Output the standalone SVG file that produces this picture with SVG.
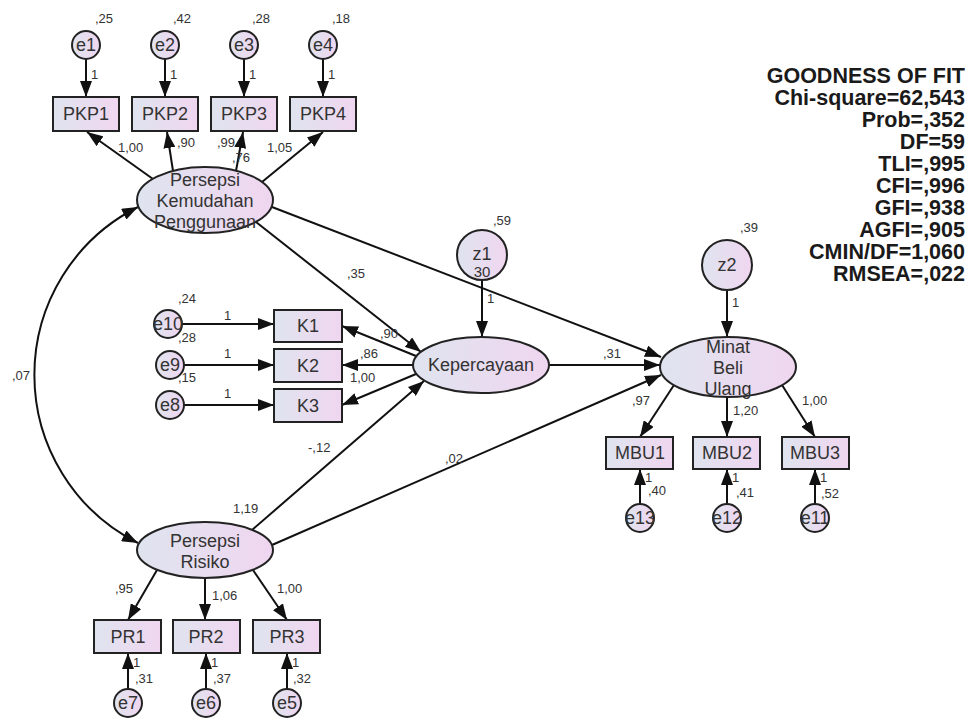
<svg xmlns="http://www.w3.org/2000/svg" width="971" height="722" viewBox="0 0 971 722">
<style>
.n{fill:url(#g);stroke:#222;stroke-width:2}
.t{font-family:"Liberation Sans",Arial,sans-serif;font-size:18px;fill:#333;text-anchor:middle}
.v{font-family:"Liberation Sans",Arial,sans-serif;font-size:13px;fill:#333}
.c{fill:none;stroke:#111;stroke-width:2;marker-end:url(#a)}
.f{font-family:"Liberation Sans",Arial,sans-serif;font-size:21.5px;font-weight:bold;fill:#1a1a1a;text-anchor:end}
</style>
<defs>
<linearGradient id="g" x1="0" y1="0" x2="1" y2="0">
<stop offset="0" stop-color="#dfe4ef"/>
<stop offset="1" stop-color="#f0d6f0"/>
</linearGradient>
<marker id="a" viewBox="0 0 16 12" refX="16" refY="6" markerWidth="16" markerHeight="12" markerUnits="userSpaceOnUse" orient="auto-start-reverse">
<path d="M0,0 L16,6 L0,12 z" fill="#111"/>
</marker>
</defs>
<rect width="971" height="722" fill="#fff"/>

<g id="connectors">
<line class="c" x1="86" y1="59" x2="86" y2="97"/>
<line class="c" x1="165" y1="59" x2="165" y2="97"/>
<line class="c" x1="244" y1="59" x2="244" y2="97"/>
<line class="c" x1="323" y1="59" x2="323" y2="97"/>
<line class="c" x1="153" y1="179" x2="87" y2="132"/>
<line class="c" x1="173" y1="171" x2="167" y2="132"/>
<line class="c" x1="236" y1="171" x2="243" y2="132"/>
<line class="c" x1="262" y1="182" x2="323" y2="132"/>
<line class="c" x1="256" y1="222" x2="421" y2="352"/>
<line class="c" x1="272" y1="207" x2="661" y2="357"/>
<line class="c" x1="549" y1="365" x2="660" y2="365"/>
<line class="c" x1="272" y1="545" x2="661" y2="375"/>
<line class="c" x1="252" y1="530" x2="424" y2="381"/>
<line class="c" x1="416" y1="356" x2="342" y2="326"/>
<line class="c" x1="413" y1="365" x2="342" y2="365"/>
<line class="c" x1="416" y1="374" x2="342" y2="405"/>
<line class="c" x1="182" y1="324" x2="274" y2="324"/>
<line class="c" x1="184" y1="365" x2="274" y2="365"/>
<line class="c" x1="184" y1="405" x2="274" y2="405"/>
<line class="c" x1="482" y1="280" x2="482" y2="337"/>
<line class="c" x1="727" y1="290" x2="727" y2="337"/>
<line class="c" x1="674" y1="385" x2="640" y2="437"/>
<line class="c" x1="727" y1="397" x2="727" y2="437"/>
<line class="c" x1="782" y1="385" x2="815" y2="437"/>
<line class="c" x1="640" y1="504" x2="640" y2="469"/>
<line class="c" x1="727" y1="504" x2="727" y2="469"/>
<line class="c" x1="815" y1="504" x2="815" y2="469"/>
<line class="c" x1="157" y1="570" x2="128" y2="620"/>
<line class="c" x1="205" y1="578" x2="205" y2="620"/>
<line class="c" x1="253" y1="570" x2="287" y2="620"/>
<line class="c" x1="128" y1="689" x2="128" y2="653"/>
<line class="c" x1="206" y1="689" x2="206" y2="653"/>
<line class="c" x1="287" y1="689" x2="287" y2="653"/>
<path class="c" d="M138,207 A188,188 0 0,0 138,543" marker-start="url(#a)"/>
</g>

<g id="labels" class="v">
<text x="95" y="23">,25</text><text x="173" y="23">,42</text><text x="252" y="23">,28</text><text x="332" y="23">,18</text>
<text x="91" y="79">1</text><text x="170" y="79">1</text><text x="249" y="79">1</text><text x="328" y="79">1</text>
<text x="118" y="152">1,00</text><text x="177" y="147">,90</text><text x="217" y="147">,99</text><text x="232" y="162">,76</text><text x="267" y="152">1,05</text>
<text x="12" y="380">,07</text>
<text x="493" y="225">,59</text>
<text x="347" y="278">,35</text>
<text x="178" y="303">,24</text><text x="178" y="342">,28</text><text x="178" y="382">,15</text>
<text x="224" y="320">1</text><text x="224" y="358">1</text><text x="224" y="398">1</text>
<text x="380" y="338">,90</text><text x="360" y="358">,86</text><text x="350" y="382">1,00</text>
<text x="487" y="303">1</text>
<text x="603" y="358">,31</text>
<text x="740" y="232">,39</text>
<text x="732" y="307">1</text>
<text x="632" y="405">,97</text><text x="733" y="415">1,20</text><text x="802" y="405">1,00</text>
<text x="645" y="482">1</text><text x="648" y="495">,40</text>
<text x="732" y="482">1</text><text x="736" y="497">,41</text>
<text x="820" y="482">1</text><text x="821" y="498">,52</text>
<text x="233" y="513">1,19</text>
<text x="308" y="452">-,12</text><text x="445" y="463">,02</text>
<text x="115" y="593">,95</text><text x="212" y="600">1,06</text><text x="277" y="593">1,00</text>
<text x="133" y="667">1</text><text x="135" y="683">,31</text>
<text x="211" y="667">1</text><text x="213" y="683">,37</text>
<text x="292" y="667">1</text><text x="293" y="683">,32</text>
</g>

<g id="e1"><circle class="n" cx="86" cy="45" r="14"/><text class="t" x="86" y="51">e1</text></g>
<g id="e2"><circle class="n" cx="165" cy="45" r="14"/><text class="t" x="165" y="51">e2</text></g>
<g id="e3"><circle class="n" cx="244" cy="45" r="14"/><text class="t" x="244" y="51">e3</text></g>
<g id="e4"><circle class="n" cx="323" cy="45" r="14"/><text class="t" x="323" y="51">e4</text></g>
<g id="PKP1"><rect class="n" x="53" y="97" width="66" height="34"/><text class="t" x="86" y="120">PKP1</text></g>
<g id="PKP2"><rect class="n" x="132" y="97" width="66" height="34"/><text class="t" x="165" y="120">PKP2</text></g>
<g id="PKP3"><rect class="n" x="211" y="97" width="66" height="34"/><text class="t" x="244" y="120">PKP3</text></g>
<g id="PKP4"><rect class="n" x="290" y="97" width="66" height="34"/><text class="t" x="323" y="120">PKP4</text></g>
<g id="PKPenggunaan"><ellipse class="n" cx="205" cy="200" rx="68" ry="33"/><text class="t" x="205" y="186">Persepsi</text><text class="t" x="205" y="207">Kemudahan</text><text class="t" x="205" y="228">Penggunaan</text></g>

<g id="e10"><circle class="n" cx="168" cy="324" r="14"/><text class="t" x="168" y="330">e10</text></g>
<g id="e9"><circle class="n" cx="170" cy="365" r="14"/><text class="t" x="170" y="371">e9</text></g>
<g id="e8"><circle class="n" cx="170" cy="405" r="14"/><text class="t" x="170" y="411">e8</text></g>
<g id="K1"><rect class="n" x="274" y="310" width="68" height="32"/><text class="t" x="308" y="332">K1</text></g>
<g id="K2"><rect class="n" x="274" y="349" width="68" height="33"/><text class="t" x="308" y="372">K2</text></g>
<g id="K3"><rect class="n" x="274" y="389" width="68" height="33"/><text class="t" x="308" y="412">K3</text></g>
<g id="z1"><circle class="n" cx="482" cy="255" r="25"/><text class="t" x="482" y="260">z1</text><text class="t" x="482" y="277" style="font-size:15px">30</text></g>
<g id="Kepercayaan"><ellipse class="n" cx="481" cy="365" rx="68" ry="28"/><text class="t" x="481" y="371">Kepercayaan</text></g>

<g id="z2"><circle class="n" cx="727" cy="265" r="25"/><text class="t" x="727" y="271">z2</text></g>
<g id="MinatBeliUlang"><ellipse class="n" cx="728" cy="367" rx="68" ry="30"/><text class="t" x="728" y="353">Minat</text><text class="t" x="728" y="374">Beli</text><text class="t" x="728" y="395">Ulang</text></g>
<g id="MBU1"><rect class="n" x="606" y="437" width="67" height="32"/><text class="t" x="640" y="459">MBU1</text></g>
<g id="MBU2"><rect class="n" x="693" y="437" width="67" height="32"/><text class="t" x="727" y="459">MBU2</text></g>
<g id="MBU3"><rect class="n" x="782" y="437" width="67" height="32"/><text class="t" x="815" y="459">MBU3</text></g>
<g id="e13"><circle class="n" cx="640" cy="518" r="14"/><text class="t" x="640" y="524">e13</text></g>
<g id="e12"><circle class="n" cx="727" cy="518" r="14"/><text class="t" x="727" y="524">e12</text></g>
<g id="e11"><circle class="n" cx="815" cy="518" r="14"/><text class="t" x="815" y="524">e11</text></g>

<g id="PersepsiRisiko"><ellipse class="n" cx="205" cy="550" rx="68" ry="28"/><text class="t" x="205" y="547">Persepsi</text><text class="t" x="205" y="568">Risiko</text></g>
<g id="PR1"><rect class="n" x="94" y="620" width="67" height="33"/><text class="t" x="128" y="643">PR1</text></g>
<g id="PR2"><rect class="n" x="173" y="620" width="67" height="33"/><text class="t" x="206" y="643">PR2</text></g>
<g id="PR3"><rect class="n" x="253" y="620" width="67" height="33"/><text class="t" x="287" y="643">PR3</text></g>
<g id="e7"><circle class="n" cx="128" cy="703" r="14"/><text class="t" x="128" y="709">e7</text></g>
<g id="e6"><circle class="n" cx="206" cy="703" r="14"/><text class="t" x="206" y="709">e6</text></g>
<g id="e5"><circle class="n" cx="287" cy="703" r="14"/><text class="t" x="287" y="709">e5</text></g>

<g id="goodness-of-fit" class="f">
<text x="965" y="83">GOODNESS OF FIT</text>
<text x="965" y="105">Chi-square=62,543</text>
<text x="965" y="127">Prob=,352</text>
<text x="965" y="149">DF=59</text>
<text x="965" y="171">TLI=,995</text>
<text x="965" y="193">CFI=,996</text>
<text x="965" y="215">GFI=,938</text>
<text x="965" y="237">AGFI=,905</text>
<text x="965" y="259">CMIN/DF=1,060</text>
<text x="965" y="281">RMSEA=,022</text>
</g>
</svg>
